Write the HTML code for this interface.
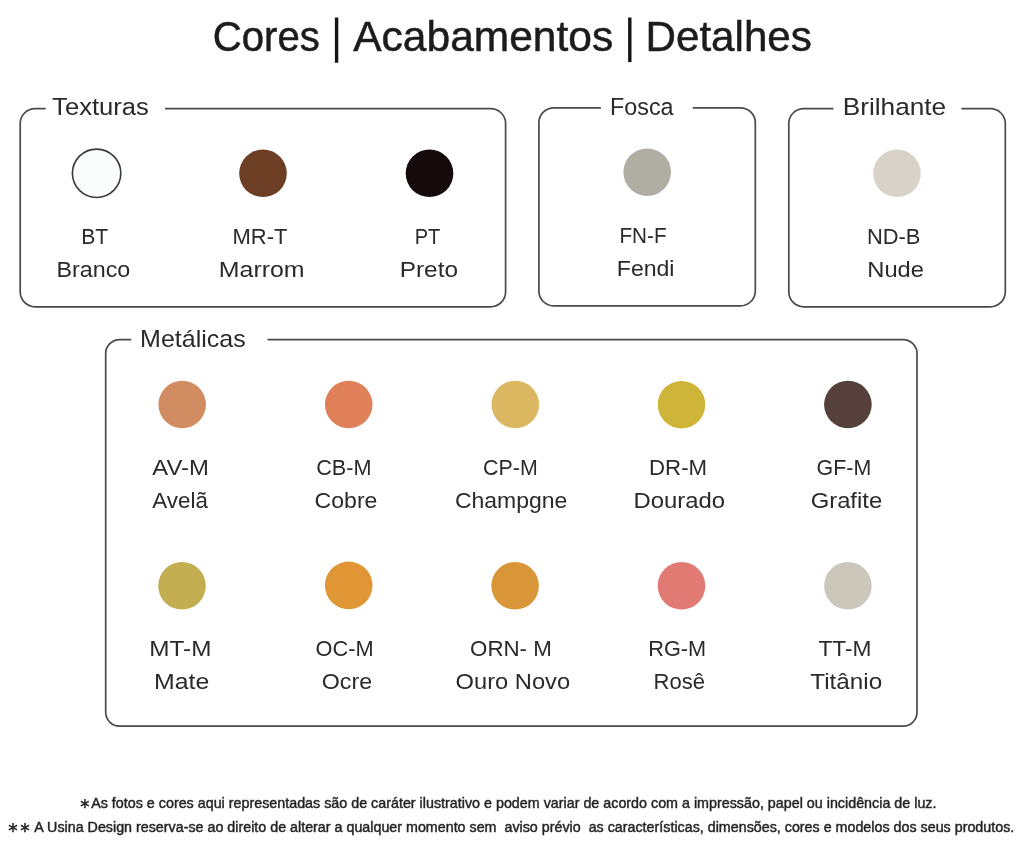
<!DOCTYPE html>
<html><head><meta charset="utf-8"><style>
html,body{margin:0;padding:0;background:#fff;}
body{width:1020px;height:846px;overflow:hidden;}
svg{display:block;font-family:"Liberation Sans",sans-serif;filter:blur(0.5px);}
</style></head><body>
<svg width="1020" height="846" viewBox="0 0 1020 846">
<rect width="1020" height="846" fill="#fff"/>
<g fill="none" stroke="#4a4a4a" stroke-width="1.7">
<path d="M165.0,108.6 H490.6 A15,15 0 0 1 505.6,123.6 V291.8 A15,15 0 0 1 490.6,306.8 H35.2 A15,15 0 0 1 20.2,291.8 V123.6 A15,15 0 0 1 35.2,108.6 H45.7"/>
<path d="M692.8,107.8 H740.3 A15,15 0 0 1 755.3,122.8 V290.9 A15,15 0 0 1 740.3,305.9 H553.9 A15,15 0 0 1 538.9,290.9 V122.8 A15,15 0 0 1 553.9,107.8 H600.9"/>
<path d="M961.4,108.6 H990.3 A15,15 0 0 1 1005.3,123.6 V291.8 A15,15 0 0 1 990.3,306.8 H803.8 A15,15 0 0 1 788.8,291.8 V123.6 A15,15 0 0 1 803.8,108.6 H833.5"/>
<path d="M267.5,339.6 H903.0 A14,14 0 0 1 917.0,353.6 V712.2 A14,14 0 0 1 903.0,726.2 H119.7 A14,14 0 0 1 105.7,712.2 V353.6 A14,14 0 0 1 119.7,339.6 H131.3"/>
</g>
<g>
<circle cx="263.0" cy="173.3" r="23.8" fill="#6c3e24"/>
<circle cx="429.5" cy="173.3" r="23.8" fill="#150a0c"/>
<circle cx="647.2" cy="172.2" r="23.8" fill="#b0aea2"/>
<circle cx="897.0" cy="173.3" r="23.8" fill="#d9d2c8"/>
<circle cx="182.2" cy="404.5" r="23.8" fill="#d28c62"/>
<circle cx="348.7" cy="404.5" r="23.8" fill="#e08058"/>
<circle cx="515.3" cy="404.5" r="23.8" fill="#dbb762"/>
<circle cx="681.5" cy="404.7" r="23.8" fill="#cfb43a"/>
<circle cx="847.9" cy="404.5" r="23.8" fill="#55403b"/>
<circle cx="182.0" cy="585.8" r="23.8" fill="#c3ae52"/>
<circle cx="348.7" cy="585.4" r="23.8" fill="#e09634"/>
<circle cx="515.1" cy="585.8" r="23.8" fill="#d89638"/>
<circle cx="681.5" cy="585.8" r="23.8" fill="#e27a74"/>
<circle cx="847.9" cy="585.8" r="23.8" fill="#cbc7bb"/>
<circle cx="96.6" cy="173.3" r="24.2" fill="#fbfdfc" stroke="#3a3a3a" stroke-width="1.6"/>
</g>
<rect x="334.9" y="17.5" width="3.4" height="45.2" fill="#151515"/>
<rect x="628.1" y="17.5" width="3.4" height="44.6" fill="#151515"/>
<g>
<text transform="translate(212.82 51.30) scale(0.9585 1)" font-size="41.86" fill="#1c1c1c" stroke="#1c1c1c" stroke-width="0.5">Cores</text>
<text transform="translate(353.20 51.30) scale(1.0162 1)" font-size="41.86" fill="#1c1c1c" stroke="#1c1c1c" stroke-width="0.5">Acabamentos</text>
<text transform="translate(645.51 51.30) scale(1.0072 1)" font-size="41.86" fill="#1c1c1c" stroke="#1c1c1c" stroke-width="0.5">Detalhes</text>
<text transform="translate(52.10 115.30) scale(1.0680 1)" font-size="23.98" fill="#2a2a2a">Texturas</text>
<text transform="translate(610.08 114.60) scale(0.9660 1)" font-size="24.13" fill="#2a2a2a">Fosca</text>
<text transform="translate(842.75 115.10) scale(1.0936 1)" font-size="23.98" fill="#2a2a2a">Brilhante</text>
<text transform="translate(140.04 346.50) scale(1.0698 1)" font-size="23.40" fill="#2a2a2a">Metálicas</text>
<text transform="translate(81.15 244.00) scale(0.9264 1)" font-size="22.82" fill="#2a2a2a">BT</text>
<text transform="translate(56.48 276.70) scale(1.0348 1)" font-size="22.53" fill="#2a2a2a">Branco</text>
<text transform="translate(232.58 243.80) scale(0.9687 1)" font-size="22.67" fill="#2a2a2a">MR-T</text>
<text transform="translate(218.86 276.60) scale(1.1048 1)" font-size="22.53" fill="#2a2a2a">Marrom</text>
<text transform="translate(414.73 244.00) scale(0.8782 1)" font-size="22.82" fill="#2a2a2a">PT</text>
<text transform="translate(399.69 276.70) scale(1.0826 1)" font-size="22.53" fill="#2a2a2a">Preto</text>
<text transform="translate(619.48 242.60) scale(0.9122 1)" font-size="22.67" fill="#2a2a2a">FN-F</text>
<text transform="translate(616.80 275.60) scale(1.0112 1)" font-size="22.82" fill="#2a2a2a">Fendi</text>
<text transform="translate(866.89 243.80) scale(0.9677 1)" font-size="22.67" fill="#2a2a2a">ND-B</text>
<text transform="translate(867.25 276.60) scale(1.0530 1)" font-size="22.53" fill="#2a2a2a">Nude</text>
<text transform="translate(152.30 475.00) scale(1.0445 1)" font-size="22.82" fill="#2a2a2a">AV-M</text>
<text transform="translate(152.30 508.30) scale(0.9821 1)" font-size="22.82" fill="#2a2a2a">Avelã</text>
<text transform="translate(316.18 475.00) scale(0.9497 1)" font-size="22.82" fill="#2a2a2a">CB-M</text>
<text transform="translate(314.62 508.30) scale(1.0107 1)" font-size="22.82" fill="#2a2a2a">Cobre</text>
<text transform="translate(483.10 475.00) scale(0.9371 1)" font-size="22.82" fill="#2a2a2a">CP-M</text>
<text transform="translate(454.92 508.30) scale(1.0078 1)" font-size="22.82" fill="#2a2a2a">Champgne</text>
<text transform="translate(649.06 475.00) scale(0.9743 1)" font-size="22.82" fill="#2a2a2a">DR-M</text>
<text transform="translate(633.43 508.30) scale(1.0468 1)" font-size="22.82" fill="#2a2a2a">Dourado</text>
<text transform="translate(816.60 475.00) scale(0.9373 1)" font-size="22.82" fill="#2a2a2a">GF-M</text>
<text transform="translate(810.68 508.30) scale(1.0438 1)" font-size="22.82" fill="#2a2a2a">Grafite</text>
<text transform="translate(149.30 656.10) scale(1.0796 1)" font-size="22.53" fill="#2a2a2a">MT-M</text>
<text transform="translate(153.96 688.80) scale(1.1175 1)" font-size="22.24" fill="#2a2a2a">Mate</text>
<text transform="translate(315.48 656.10) scale(0.9671 1)" font-size="22.53" fill="#2a2a2a">OC-M</text>
<text transform="translate(321.81 688.80) scale(1.0444 1)" font-size="22.24" fill="#2a2a2a">Ocre</text>
<text transform="translate(470.05 656.10) scale(0.9910 1)" font-size="22.53" fill="#2a2a2a">ORN- M</text>
<text transform="translate(455.59 688.80) scale(1.0654 1)" font-size="22.24" fill="#2a2a2a">Ouro Novo</text>
<text transform="translate(648.30 656.10) scale(0.9633 1)" font-size="22.53" fill="#2a2a2a">RG-M</text>
<text transform="translate(653.58 688.80) scale(0.9903 1)" font-size="22.24" fill="#2a2a2a">Rosê</text>
<text transform="translate(818.44 656.10) scale(1.0103 1)" font-size="22.53" fill="#2a2a2a">TT-M</text>
<text transform="translate(810.22 688.80) scale(1.0916 1)" font-size="22.24" fill="#2a2a2a">Titânio</text>
<text transform="translate(79.21 808.00) scale(0.9947 1)" font-size="14.39" fill="#222" stroke="#2a2a2a" stroke-width="0.45">∗As fotos e cores aqui representadas são de caráter ilustrativo e podem variar de acordo com a impressão, papel ou incidência de luz.</text>
<text transform="translate(7.01 832.00) scale(1.0141 1)" font-size="14.10" fill="#222" stroke="#2a2a2a" stroke-width="0.45">∗∗ A Usina Design reserva-se ao direito de alterar a qualquer momento sem&#160; aviso prévio&#160; as características, dimensões, cores e modelos dos seus produtos.</text>
</g>
</svg>
</body></html>
